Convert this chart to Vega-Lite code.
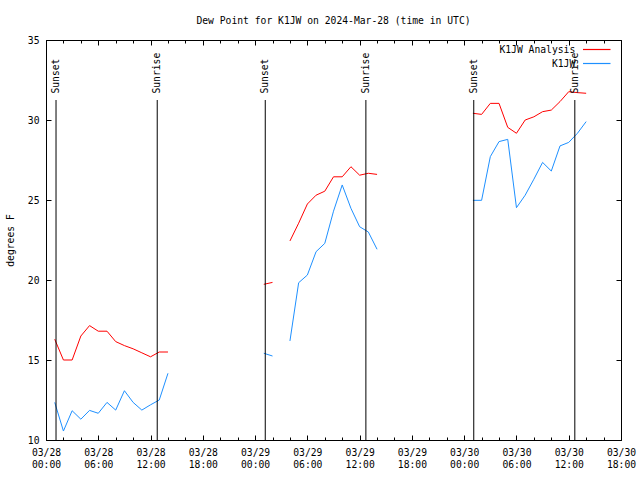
{
  "$schema": "https://vega.github.io/schema/vega-lite/v6.json",
  "autosize": {"type": "none"},
  "padding": {"left": 46, "top": 40, "right": 19, "bottom": 40},
  "width": 575,
  "height": 400,
  "background": "white",
  "title": {"text": "Dew Point for K1JW on 2024-Mar-28 (time in UTC)", "font": "DejaVu Sans Mono", "fontSize": 9.7, "fontWeight": "normal", "color": "black", "anchor": "middle", "offset": 9},
  "config": {
    "view": {"stroke": "black", "strokeWidth": 1},
    "font": "DejaVu Sans Mono"
  },
  "datasets": {
    "dew": [
      {"t":"2024-03-28T01:00:00Z","s":"K1JW Analysis","g":1,"v":16.3},
      {"t":"2024-03-28T02:00:00Z","s":"K1JW Analysis","g":1,"v":15.0},
      {"t":"2024-03-28T03:00:00Z","s":"K1JW Analysis","g":1,"v":15.0},
      {"t":"2024-03-28T04:00:00Z","s":"K1JW Analysis","g":1,"v":16.5},
      {"t":"2024-03-28T05:00:00Z","s":"K1JW Analysis","g":1,"v":17.15},
      {"t":"2024-03-28T06:00:00Z","s":"K1JW Analysis","g":1,"v":16.8},
      {"t":"2024-03-28T07:00:00Z","s":"K1JW Analysis","g":1,"v":16.8},
      {"t":"2024-03-28T08:00:00Z","s":"K1JW Analysis","g":1,"v":16.15},
      {"t":"2024-03-28T09:00:00Z","s":"K1JW Analysis","g":1,"v":15.9},
      {"t":"2024-03-28T10:00:00Z","s":"K1JW Analysis","g":1,"v":15.7},
      {"t":"2024-03-28T11:00:00Z","s":"K1JW Analysis","g":1,"v":15.45},
      {"t":"2024-03-28T12:00:00Z","s":"K1JW Analysis","g":1,"v":15.2},
      {"t":"2024-03-28T13:00:00Z","s":"K1JW Analysis","g":1,"v":15.5},
      {"t":"2024-03-28T14:00:00Z","s":"K1JW Analysis","g":1,"v":15.5},
      {"t":"2024-03-29T01:00:00Z","s":"K1JW Analysis","g":2,"v":19.73},
      {"t":"2024-03-29T02:00:00Z","s":"K1JW Analysis","g":2,"v":19.85},
      {"t":"2024-03-29T04:00:00Z","s":"K1JW Analysis","g":3,"v":22.44},
      {"t":"2024-03-29T05:00:00Z","s":"K1JW Analysis","g":3,"v":23.55},
      {"t":"2024-03-29T06:00:00Z","s":"K1JW Analysis","g":3,"v":24.75},
      {"t":"2024-03-29T07:00:00Z","s":"K1JW Analysis","g":3,"v":25.3},
      {"t":"2024-03-29T08:00:00Z","s":"K1JW Analysis","g":3,"v":25.55},
      {"t":"2024-03-29T09:00:00Z","s":"K1JW Analysis","g":3,"v":26.45},
      {"t":"2024-03-29T10:00:00Z","s":"K1JW Analysis","g":3,"v":26.45},
      {"t":"2024-03-29T11:00:00Z","s":"K1JW Analysis","g":3,"v":27.08},
      {"t":"2024-03-29T12:00:00Z","s":"K1JW Analysis","g":3,"v":26.55},
      {"t":"2024-03-29T13:00:00Z","s":"K1JW Analysis","g":3,"v":26.67},
      {"t":"2024-03-29T14:00:00Z","s":"K1JW Analysis","g":3,"v":26.6},
      {"t":"2024-03-30T01:00:00Z","s":"K1JW Analysis","g":4,"v":30.42},
      {"t":"2024-03-30T02:00:00Z","s":"K1JW Analysis","g":4,"v":30.35},
      {"t":"2024-03-30T03:00:00Z","s":"K1JW Analysis","g":4,"v":31.04},
      {"t":"2024-03-30T04:00:00Z","s":"K1JW Analysis","g":4,"v":31.04},
      {"t":"2024-03-30T05:00:00Z","s":"K1JW Analysis","g":4,"v":29.54},
      {"t":"2024-03-30T06:00:00Z","s":"K1JW Analysis","g":4,"v":29.17},
      {"t":"2024-03-30T07:00:00Z","s":"K1JW Analysis","g":4,"v":30.0},
      {"t":"2024-03-30T08:00:00Z","s":"K1JW Analysis","g":4,"v":30.2},
      {"t":"2024-03-30T09:00:00Z","s":"K1JW Analysis","g":4,"v":30.52},
      {"t":"2024-03-30T10:00:00Z","s":"K1JW Analysis","g":4,"v":30.62},
      {"t":"2024-03-30T11:00:00Z","s":"K1JW Analysis","g":4,"v":31.15},
      {"t":"2024-03-30T12:00:00Z","s":"K1JW Analysis","g":4,"v":31.77},
      {"t":"2024-03-30T13:00:00Z","s":"K1JW Analysis","g":4,"v":31.71},
      {"t":"2024-03-30T14:00:00Z","s":"K1JW Analysis","g":4,"v":31.67},
      {"t":"2024-03-28T01:00:00Z","s":"K1JW","g":1,"v":12.35},
      {"t":"2024-03-28T02:00:00Z","s":"K1JW","g":1,"v":10.56},
      {"t":"2024-03-28T03:00:00Z","s":"K1JW","g":1,"v":11.83},
      {"t":"2024-03-28T04:00:00Z","s":"K1JW","g":1,"v":11.3},
      {"t":"2024-03-28T05:00:00Z","s":"K1JW","g":1,"v":11.85},
      {"t":"2024-03-28T06:00:00Z","s":"K1JW","g":1,"v":11.67},
      {"t":"2024-03-28T07:00:00Z","s":"K1JW","g":1,"v":12.35},
      {"t":"2024-03-28T08:00:00Z","s":"K1JW","g":1,"v":11.87},
      {"t":"2024-03-28T09:00:00Z","s":"K1JW","g":1,"v":13.08},
      {"t":"2024-03-28T10:00:00Z","s":"K1JW","g":1,"v":12.35},
      {"t":"2024-03-28T11:00:00Z","s":"K1JW","g":1,"v":11.87},
      {"t":"2024-03-28T12:00:00Z","s":"K1JW","g":1,"v":12.2},
      {"t":"2024-03-28T13:00:00Z","s":"K1JW","g":1,"v":12.5},
      {"t":"2024-03-28T14:00:00Z","s":"K1JW","g":1,"v":14.17},
      {"t":"2024-03-29T01:00:00Z","s":"K1JW","g":2,"v":15.42},
      {"t":"2024-03-29T02:00:00Z","s":"K1JW","g":2,"v":15.25},
      {"t":"2024-03-29T04:00:00Z","s":"K1JW","g":3,"v":16.19},
      {"t":"2024-03-29T05:00:00Z","s":"K1JW","g":3,"v":19.83},
      {"t":"2024-03-29T06:00:00Z","s":"K1JW","g":3,"v":20.31},
      {"t":"2024-03-29T07:00:00Z","s":"K1JW","g":3,"v":21.77},
      {"t":"2024-03-29T08:00:00Z","s":"K1JW","g":3,"v":22.29},
      {"t":"2024-03-29T09:00:00Z","s":"K1JW","g":3,"v":24.3},
      {"t":"2024-03-29T10:00:00Z","s":"K1JW","g":3,"v":25.94},
      {"t":"2024-03-29T11:00:00Z","s":"K1JW","g":3,"v":24.48},
      {"t":"2024-03-29T12:00:00Z","s":"K1JW","g":3,"v":23.33},
      {"t":"2024-03-29T13:00:00Z","s":"K1JW","g":3,"v":23.0},
      {"t":"2024-03-29T14:00:00Z","s":"K1JW","g":3,"v":21.92},
      {"t":"2024-03-30T01:00:00Z","s":"K1JW","g":4,"v":24.98},
      {"t":"2024-03-30T02:00:00Z","s":"K1JW","g":4,"v":24.98},
      {"t":"2024-03-30T03:00:00Z","s":"K1JW","g":4,"v":27.71},
      {"t":"2024-03-30T04:00:00Z","s":"K1JW","g":4,"v":28.65},
      {"t":"2024-03-30T05:00:00Z","s":"K1JW","g":4,"v":28.79},
      {"t":"2024-03-30T06:00:00Z","s":"K1JW","g":4,"v":24.52},
      {"t":"2024-03-30T07:00:00Z","s":"K1JW","g":4,"v":25.3},
      {"t":"2024-03-30T08:00:00Z","s":"K1JW","g":4,"v":26.3},
      {"t":"2024-03-30T09:00:00Z","s":"K1JW","g":4,"v":27.35},
      {"t":"2024-03-30T10:00:00Z","s":"K1JW","g":4,"v":26.81},
      {"t":"2024-03-30T11:00:00Z","s":"K1JW","g":4,"v":28.38},
      {"t":"2024-03-30T12:00:00Z","s":"K1JW","g":4,"v":28.6},
      {"t":"2024-03-30T13:00:00Z","s":"K1JW","g":4,"v":29.17},
      {"t":"2024-03-30T14:00:00Z","s":"K1JW","g":4,"v":29.9}
    ],
    "sun": [
      {"t":"2024-03-28T01:09:00Z","label":"Sunset"},
      {"t":"2024-03-28T12:46:00Z","label":"Sunrise"},
      {"t":"2024-03-29T01:10:00Z","label":"Sunset"},
      {"t":"2024-03-29T12:43:00Z","label":"Sunrise"},
      {"t":"2024-03-30T01:06:00Z","label":"Sunset"},
      {"t":"2024-03-30T12:42:00Z","label":"Sunrise"}
    ]
  },
  "resolve": {"axis": {"x": "independent", "y": "independent"}},
  "layer": [
    {
      "data": {"name": "dew"},
      "transform": [{"filter": "datum.s == 'K1JW Analysis'"}],
      "mark": {"type": "line", "strokeWidth": 1},
      "encoding": {
        "x": {"field": "t", "type": "temporal",
              "scale": {"type": "utc", "domain": [{"year": 2024, "month": 3, "date": 28, "hours": 0, "utc": true}, {"year": 2024, "month": 3, "date": 30, "hours": 18, "utc": true}]},
              "axis": {"orient": "bottom", "tickSize": -5, "tickColor": "black", "domain": false, "grid": false,
                       "labelExpr": "[utcFormat(datum.value, '%m/%d'), utcFormat(datum.value, '%H:%M')]",
                       "labelPadding": 12, "labelLineHeight": 12.5, "labelOverlap": false, "labelFlush": false,
                       "labelFont": "DejaVu Sans Mono", "labelFontSize": 9.7, "labelColor": "black", "title": null}},
        "y": {"field": "v", "type": "quantitative",
              "scale": {"domain": [10, 35], "nice": false, "zero": false},
              "axis": {"orient": "left", "values": [10, 15, 20, 25, 30, 35], "tickSize": -5, "tickColor": "black", "domain": false, "grid": false,
                       "labelPadding": 12, "labelFont": "DejaVu Sans Mono", "labelFontSize": 9.7, "labelColor": "black",
                       "title": "degrees F", "titleFont": "DejaVu Sans Mono", "titleFontSize": 9.7, "titleFontWeight": "normal", "titleColor": "black", "titlePadding": 12}},
        "color": {"field": "s", "type": "nominal", "scale": {"domain": ["K1JW Analysis", "K1JW"], "range": ["#ff0000", "#1e90ff"]},
                  "legend": {"orient": "none", "legendX": 538, "legendY": 3, "title": null, "symbolType": "M-2.5,0H2.5", "symbolSize": 121, "symbolStrokeWidth": 1.2, "symbolOffset": 6.25,
                             "rowPadding": 2, "padding": 0, "labelAlign": "right", "labelOffset": -28,
                             "labelFont": "DejaVu Sans Mono", "labelFontSize": 9.7, "labelColor": "black"}},
        "detail": {"field": "g", "type": "nominal"}
      }
    },
    {
      "data": {"name": "dew"},
      "transform": [{"filter": "datum.s == 'K1JW'"}],
      "mark": {"type": "line", "strokeWidth": 1},
      "encoding": {
        "x": {"field": "t", "type": "temporal",
              "axis": {"orient": "top", "tickSize": -5, "tickColor": "black", "domain": false, "grid": false, "labels": false, "title": null}},
        "y": {"field": "v", "type": "quantitative",
              "axis": {"orient": "right", "values": [10, 15, 20, 25, 30, 35], "tickSize": -5, "tickColor": "black", "domain": false, "grid": false, "labels": false, "title": null}},
        "color": {"field": "s", "type": "nominal"},
        "detail": {"field": "g", "type": "nominal"}
      }
    },
    {
      "data": {"name": "sun"},
      "mark": {"type": "rule", "color": "black", "strokeWidth": 1},
      "encoding": {
        "x": {"field": "t", "type": "temporal",
              "axis": {"orient": "bottom", "values": [1711584000000, 1711591200000, 1711598400000, 1711605600000, 1711612800000, 1711620000000, 1711627200000, 1711634400000, 1711641600000, 1711648800000, 1711656000000, 1711663200000, 1711670400000, 1711677600000, 1711684800000, 1711692000000, 1711699200000, 1711706400000, 1711713600000, 1711720800000, 1711728000000, 1711735200000, 1711742400000, 1711749600000, 1711756800000, 1711764000000, 1711771200000, 1711778400000, 1711785600000, 1711792800000, 1711800000000, 1711807200000, 1711814400000, 1711821600000],
                       "tickSize": -3, "tickColor": "black", "domain": false, "grid": false, "labels": false, "title": null}},
        "y": {"datum": 10, "type": "quantitative", "axis": null},
        "y2": {"datum": 31.25}
      }
    },
    {
      "data": {"name": "sun"},
      "mark": {"type": "text", "angle": 270, "align": "left", "baseline": "middle", "font": "DejaVu Sans Mono", "fontSize": 9.7, "color": "black"},
      "encoding": {
        "x": {"field": "t", "type": "temporal",
              "axis": {"orient": "top", "values": [1711584000000, 1711591200000, 1711598400000, 1711605600000, 1711612800000, 1711620000000, 1711627200000, 1711634400000, 1711641600000, 1711648800000, 1711656000000, 1711663200000, 1711670400000, 1711677600000, 1711684800000, 1711692000000, 1711699200000, 1711706400000, 1711713600000, 1711720800000, 1711728000000, 1711735200000, 1711742400000, 1711749600000, 1711756800000, 1711764000000, 1711771200000, 1711778400000, 1711785600000, 1711792800000, 1711800000000, 1711807200000, 1711814400000, 1711821600000],
                       "tickSize": -3, "tickColor": "black", "domain": false, "grid": false, "labels": false, "title": null}},
        "y": {"datum": 31.65, "type": "quantitative", "axis": null},
        "text": {"field": "label"}
      }
    }
  ]
}
